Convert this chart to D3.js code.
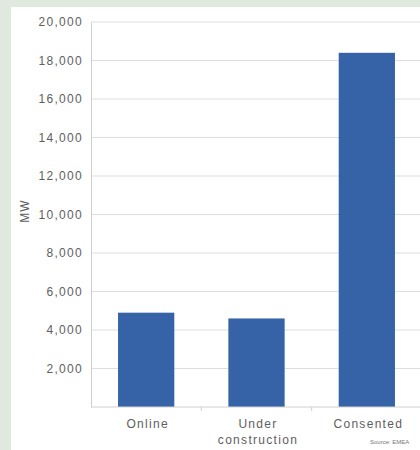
<!DOCTYPE html>
<html><head><meta charset="utf-8">
<script src="https://cdn.jsdelivr.net/npm/d3@7"></script>
<style>body{margin:0;background:#dfe9dd;}svg{display:block;}</style>
</head><body>
<script>
const categories = ["Online", "Under construction", "Consented"];
const values = [4900, 4600, 18400];
const yTicks = [2000, 4000, 6000, 8000, 10000, 12000, 14000, 16000, 18000, 20000];
const yLabel = "MW";
const source = "Source: EMEA";

(function() {
const W = 420, H = 450;
const FONT = "Liberation Sans, Arial, sans-serif";
const svg = d3.select("body").append("svg").attr("width", W).attr("height", H);
svg.append("rect").attr("width", W).attr("height", H).attr("fill", "#dfe9dd");
svg.append("rect").attr("x", 11).attr("y", 7).attr("width", W - 11).attr("height", H - 7).attr("fill", "#ffffff");

const mLeft = 91, mTop = 22, mBottom = 407, mRight = 422;
const x = d3.scaleBand().domain(categories).range([mLeft, mRight]).paddingInner(0.49).paddingOuter(0.245);
const y = d3.scaleLinear().domain([0, 20000]).range([mBottom, mTop]);

// gridlines
svg.append("g").selectAll("line").data(yTicks).join("line")
  .attr("x1", mLeft).attr("x2", mRight).attr("y1", d => y(d)).attr("y2", d => y(d))
  .attr("stroke", "#dedede").attr("stroke-width", 1);

// y axis
const yAxis = d3.axisLeft(y).tickValues(yTicks).tickSize(0).tickPadding(8)
  .tickFormat(d3.format(","));
const gy = svg.append("g").attr("transform", `translate(${mLeft},0)`).call(yAxis);
gy.select(".domain").attr("stroke", "#cfcfcf");
gy.selectAll("text").attr("fill", "#5e5e5e").style("font-family", FONT).style("font-size", "12px").style("letter-spacing", "1.3px");

// bars
svg.append("g").selectAll("rect").data(values).join("rect")
  .attr("x", (d, i) => x(categories[i])).attr("width", x.bandwidth())
  .attr("y", d => y(d)).attr("height", d => y(0) - y(d))
  .attr("fill", "#3663a8");

// x axis
const xb = d3.scaleLinear().domain([0, 3]).range([mLeft, mRight]);
const gx = svg.append("g").attr("transform", `translate(0,${mBottom})`);
gx.append("line").attr("x1", mLeft).attr("x2", mRight).attr("stroke", "#cfcfcf");
gx.selectAll(".tk").data([1, 2]).join("line").attr("class", "tk")
  .attr("x1", d => xb(d)).attr("x2", d => xb(d)).attr("y1", 0).attr("y2", 4).attr("stroke", "#cfcfcf");
const lbl = gx.selectAll(".lbl").data(categories).join("text").attr("class", "lbl")
  .attr("y", 21)
  .attr("text-anchor", "middle").attr("fill", "#5e5e5e")
  .style("font-family", FONT).style("font-size", "12px").style("letter-spacing", "1.3px");
lbl.each(function(d) {
  const t = d3.select(this);
  const parts = d === "Under construction" ? ["Under", "construction"] : [d];
  parts.forEach((p, i) => t.append("tspan").attr("x", x(d) + x.bandwidth() / 2 + 1.5).attr("dy", i ? 16 : 0).text(p));
});

// y label
svg.append("text").attr("transform", `translate(29,211) rotate(-90)`)
  .attr("text-anchor", "middle").attr("fill", "#5e5e5e")
  .style("font-family", FONT).style("font-size", "12px").style("letter-spacing", "1px").text(yLabel);

// source
svg.append("text").attr("x", 370).attr("y", 444).attr("fill", "#777")
  .style("font-family", FONT).style("font-size", "6px").text(source);
})();
</script>
</body></html>
